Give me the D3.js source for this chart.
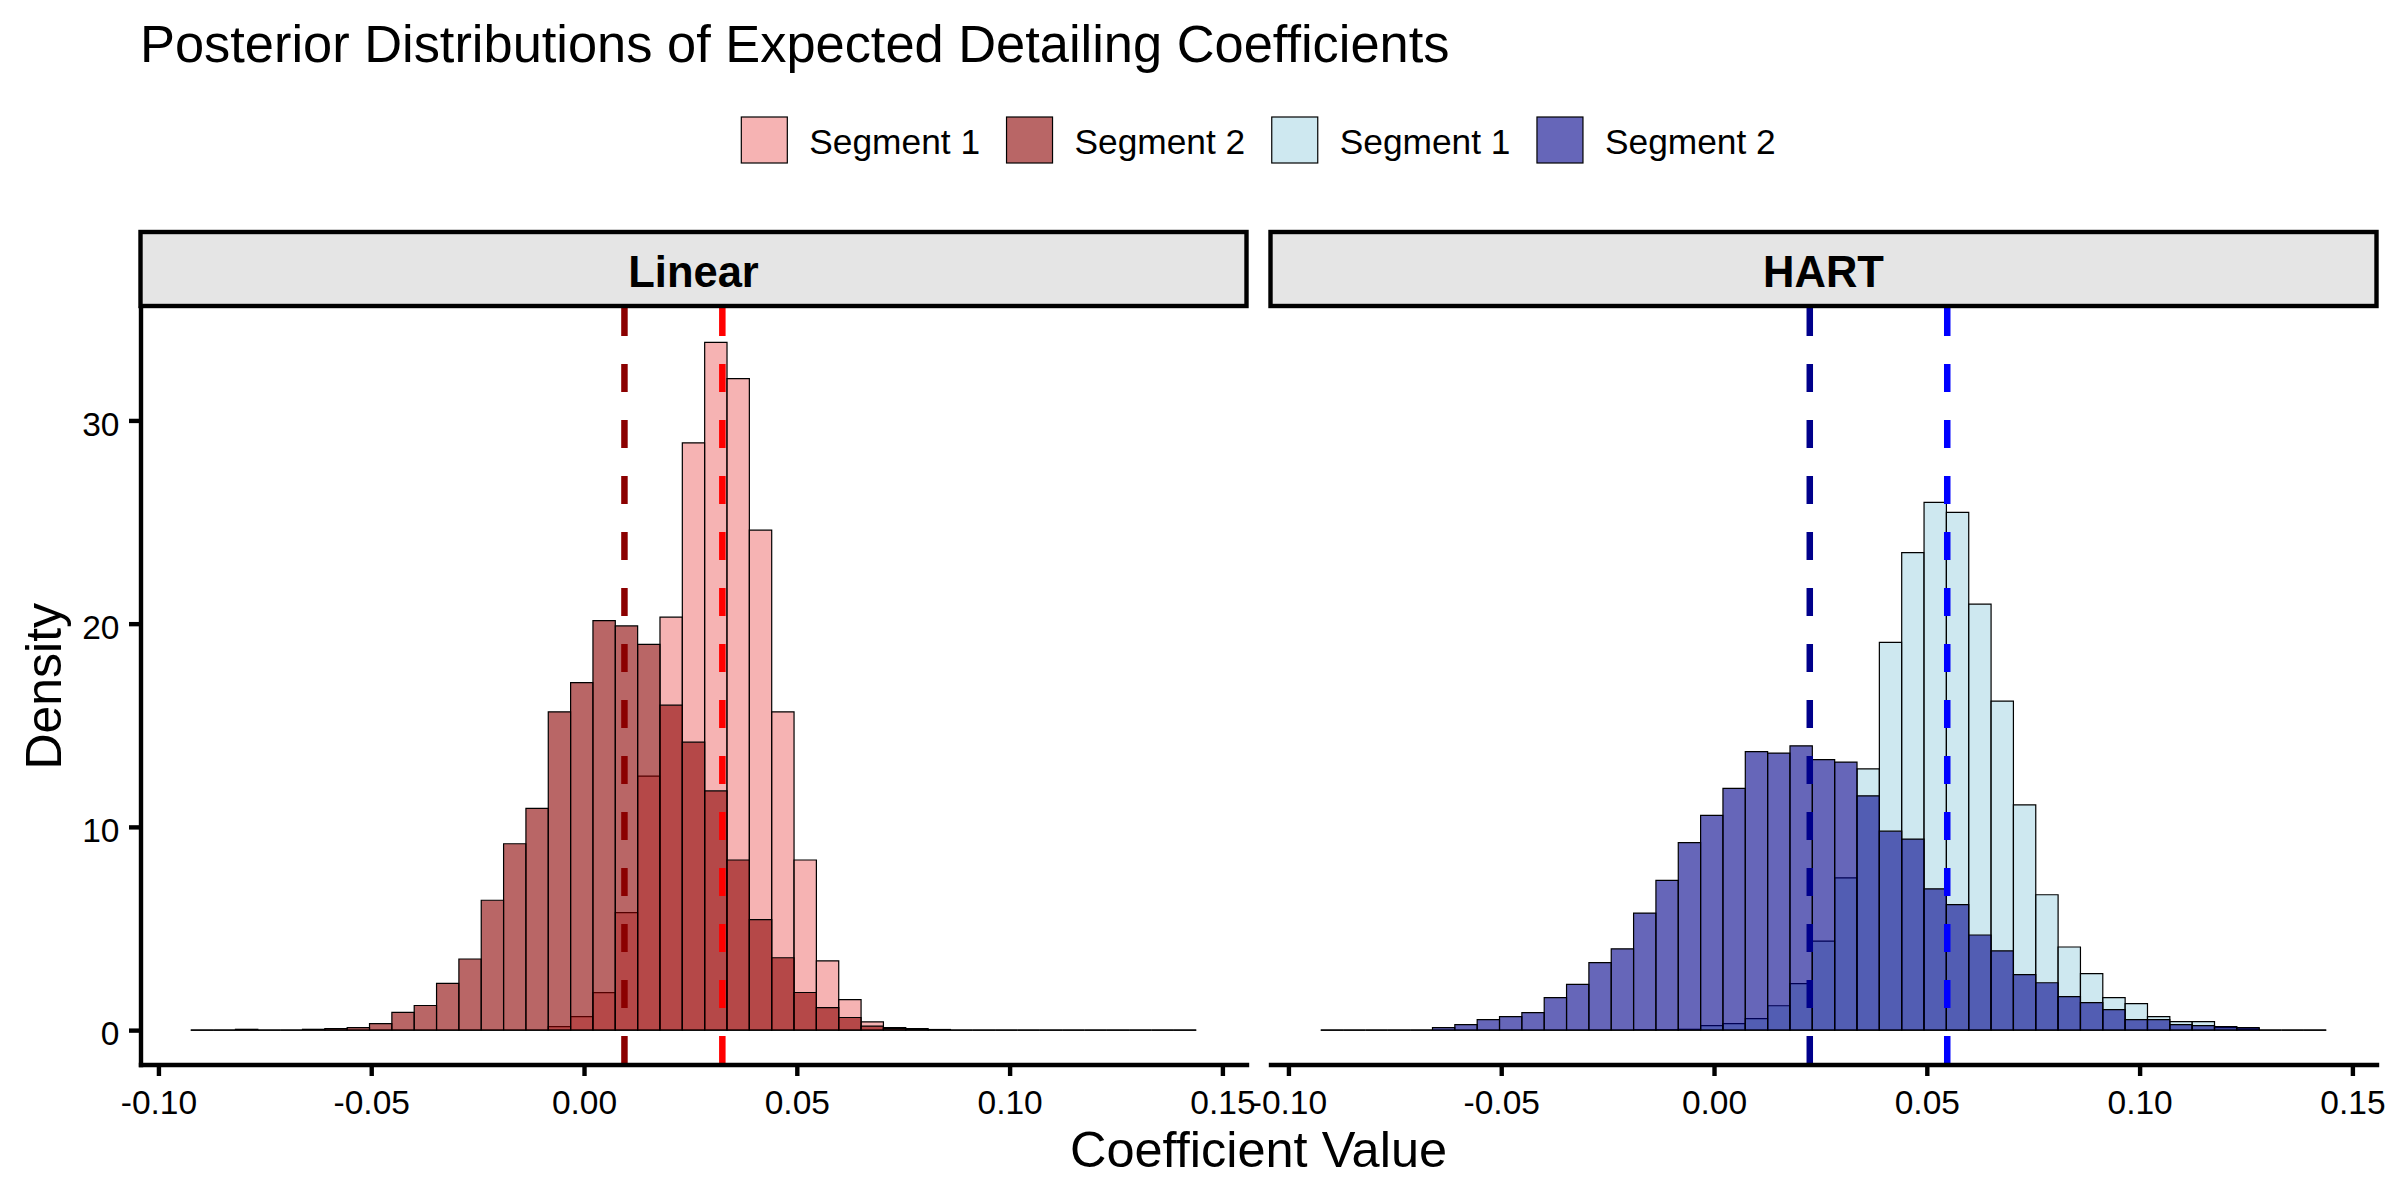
<!DOCTYPE html>
<html><head><meta charset="utf-8">
<script src="https://cdn.jsdelivr.net/npm/d3@7"></script>
<style>
body{margin:0;background:#fff}
text{font-family:"Liberation Sans",Arial,Helvetica,sans-serif;fill:#000}
</style>
</head><body>
<svg id="chart" width="2400" height="1200"></svg>
<script>
// ---------------- data ----------------
const titleText = "Posterior Distributions of Expected Detailing Coefficients";
const panels = ["Linear", "HART"];
const segmentLabels = ["Segment 1", "Segment 2"];
const xTitle = "Coefficient Value";
const yTitle = "Density";
const binStart = -0.0924;
const binWidth = 0.00525;
const xTicks = [-0.10, -0.05, 0.00, 0.05, 0.10, 0.15];
const yTicks = [0, 10, 20, 30];

const linearSeg1 = [0,0,0,0,0,0,0,0,0,0, 0,0,0,0,0,0,0.17,0.66,1.84,5.78,
  12.50,20.32,28.90,33.84,32.06,24.60,15.66,8.37,3.41,1.50,
  0.41,0.12,0.07,0.03,0,0,0,0,0,0, 0,0,0,0,0];
const linearSeg2 = [0,0,0.04,0,0,0.04,0.07,0.12,0.32,0.87,
  1.21,2.30,3.50,6.39,9.17,10.91,15.66,17.10,20.15,19.89,
  18.98,15.99,14.17,11.77,8.37,5.44,3.56,1.85,1.11,0.62,
  0.20,0.07,0.03,0,0,0,0,0,0,0, 0,0,0,0,0];
const hartSeg1 = [0,0,0,0,0,0,0,0,0,0, 0,0,0,0,0.02,0.02,0.04,0.22,0.32,0.57,
  1.20,2.29,4.38,7.49,12.85,19.08,23.50,25.97,25.48,20.96,
  16.19,11.08,6.66,4.09,2.78,1.60,1.30,0.66,0.42,0.42,
  0.12,0.06,0,0,0];
const hartSeg2 = [0,0,0,0,0,0.12,0.27,0.52,0.66,0.86,
  1.60,2.25,3.32,4.00,5.76,7.37,9.23,10.57,11.89,13.70,
  13.63,13.99,13.31,13.19,11.53,9.79,9.40,6.95,6.17,4.68,
  3.90,2.73,2.33,1.65,1.35,1.01,0.52,0.52,0.27,0.22,
  0.17,0.12,0,0,0];

const linearMeans = [0.0325, 0.0095];   // Segment 1, Segment 2
const hartMeans = [0.0548, 0.0225];

const linearFills = ["#F08080", "#8B0000"];
const hartFills = ["#ADD8E6", "#00008B"];
const linearLineColors = ["#FF0000", "#8B0000"];
const hartLineColors = ["#0000FF", "#00008B"];

// ---------------- layout ----------------
const W = 2400, H = 1200;
const panelX = [[140.5, 1246.5], [1270.5, 2376.5]];
const panelY0 = 308, panelY1 = 1064.5;
const stripY = 232, stripH = 74;
const fillAlpha = 0.6;

const panelSeries = [[linearSeg1, linearSeg2], [hartSeg1, hartSeg2]];
const panelFills = [linearFills, hartFills];
const panelMeans = [linearMeans, hartMeans];
const panelLineColors = [linearLineColors, hartLineColors];

const svg = d3.select("#chart");
svg.append("rect").attr("width", W).attr("height", H).attr("fill", "#fff");

const nBins = linearSeg1.length;
const edges = d3.range(nBins + 1).map(i => binStart + i * binWidth);
const xMin = edges[0], xMax = edges[nBins], R = xMax - xMin;
const yMax = d3.max([linearSeg1, linearSeg2, hartSeg1, hartSeg2].flat());
const y = d3.scaleLinear().domain([-0.05 * yMax, 1.05 * yMax]).range([panelY1, panelY0]);

const fmt = d => d.toFixed(2);

panels.forEach((name, p) => {
  const x = d3.scaleLinear().domain([xMin - 0.05 * R, xMax + 0.05 * R]).range(panelX[p]);
  const g = svg.append("g");

  // histograms: segment 1 first, then segment 2 on top
  panelSeries[p].forEach((series, s) => {
    g.append("g").selectAll("path").data(series).join("path")
      .attr("d", (v, i) => `M${x(edges[i])},${y(0)}V${y(v)}H${x(edges[i + 1])}V${y(0)}Z`)
      .attr("fill", panelFills[p][s])
      .attr("fill-opacity", fillAlpha)
      .attr("stroke", "#000")
      .attr("stroke-width", 1.2);
  });

  // mean lines
  g.append("g").selectAll("line").data(panelMeans[p]).join("line")
    .attr("x1", d => x(d)).attr("x2", d => x(d))
    .attr("y1", panelY0).attr("y2", panelY1)
    .attr("stroke", (d, i) => panelLineColors[p][i])
    .attr("stroke-width", 6.5)
    .attr("stroke-dasharray", "28,28");

  // x axis
  const xa = svg.append("g").attr("transform", `translate(0,${panelY1})`)
    .call(d3.axisBottom(x).tickValues(xTicks).tickFormat(fmt).tickSize(11.5).tickSizeOuter(0).tickPadding(13.9));
  xa.select(".domain").attr("stroke", "#000").attr("stroke-width", 4.4).attr("stroke-linecap", "square");
  xa.selectAll(".tick line").attr("stroke", "#000").attr("stroke-width", 4.4);
  xa.selectAll(".tick text").attr("font-size", 33.5).attr("font-family", null).attr("fill", "#000");

  if (p === 0) {
    const ya = svg.append("g").attr("transform", `translate(${panelX[0][0]},0)`)
      .call(d3.axisLeft(y).tickValues(yTicks).tickSize(11.5).tickSizeOuter(0).tickPadding(9.5));
    ya.select(".domain").attr("stroke", "#000").attr("stroke-width", 4.4).attr("stroke-linecap", "square");
    ya.selectAll(".tick line").attr("stroke", "#000").attr("stroke-width", 4.4);
    ya.selectAll(".tick text").attr("font-size", 33.5).attr("font-family", null).attr("fill", "#000").attr("dy", "0.44em");
  }

  // strip
  svg.append("rect")
    .attr("x", panelX[p][0]).attr("y", stripY)
    .attr("width", panelX[p][1] - panelX[p][0]).attr("height", stripH)
    .attr("fill", "#E5E5E5").attr("stroke", "#000").attr("stroke-width", 4.4);
  svg.append("text")
    .attr("x", (panelX[p][0] + panelX[p][1]) / 2).attr("y", 286.7)
    .attr("text-anchor", "middle").attr("font-size", 43.5).attr("font-weight", "bold")
    .text(name);
});

// title
svg.append("text").attr("x", 140).attr("y", 61.7).attr("font-size", 52.4).text(titleText);

// axis titles
const plotCenterX = (panelX[0][0] + panelX[1][1]) / 2;
svg.append("text").attr("x", plotCenterX).attr("y", 1166.7)
  .attr("text-anchor", "middle").attr("font-size", 50.5).text(xTitle);
svg.append("text").attr("transform", `translate(60.5,${(panelY0 + panelY1) / 2}) rotate(-90)`)
  .attr("text-anchor", "middle").attr("font-size", 50).text(yTitle);

// legend
const legendItems = [
  {label: segmentLabels[0], fill: linearFills[0]},
  {label: segmentLabels[1], fill: linearFills[1]},
  {label: segmentLabels[0], fill: hartFills[0]},
  {label: segmentLabels[1], fill: hartFills[1]}
];
const keySize = 46, keyGap = 22, itemGap = 26.5, keyY = 117, textBaseline = 154;
const lg = svg.append("g");
const texts = legendItems.map(it => lg.append("text").attr("font-size", 35.3).text(it.label));
const widths = texts.map(t => t.node().getComputedTextLength());
const total = d3.sum(widths) + legendItems.length * (keySize + keyGap) + (legendItems.length - 1) * itemGap;
let cx = plotCenterX - total / 2;
legendItems.forEach((it, i) => {
  lg.append("rect").attr("x", cx).attr("y", keyY).attr("width", keySize).attr("height", keySize)
    .attr("fill", "#fff");
  lg.append("rect").attr("x", cx).attr("y", keyY).attr("width", keySize).attr("height", keySize)
    .attr("fill", it.fill).attr("fill-opacity", fillAlpha).attr("stroke", "#000").attr("stroke-width", 1.2);
  texts[i].attr("x", cx + keySize + keyGap).attr("y", textBaseline).raise();
  cx += keySize + keyGap + widths[i] + itemGap;
});
</script>
</body></html>
